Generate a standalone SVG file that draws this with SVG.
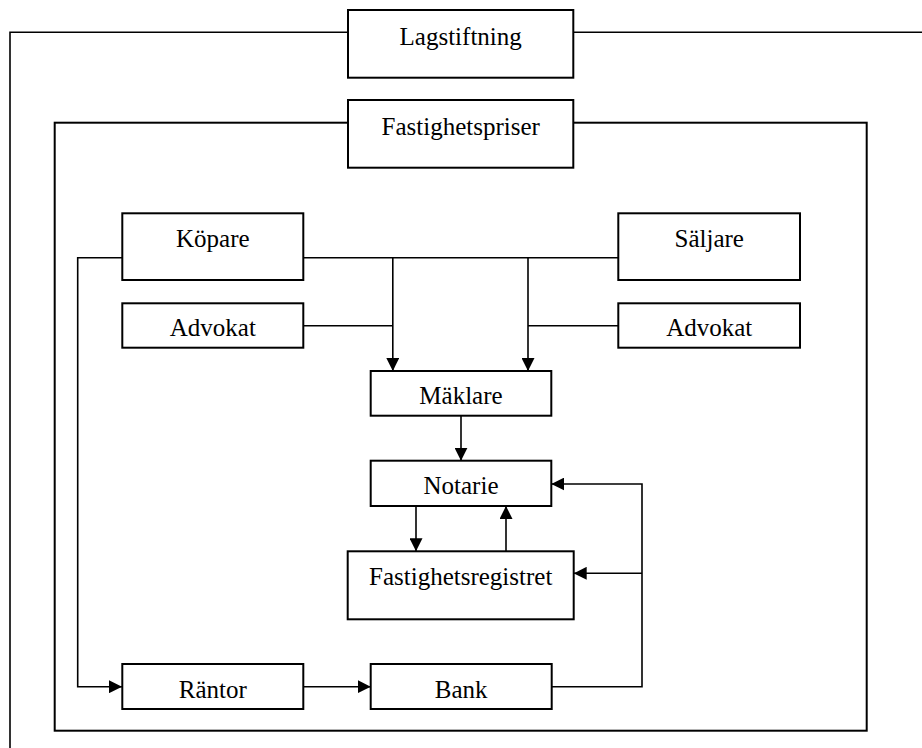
<svg xmlns="http://www.w3.org/2000/svg" width="922" height="748" viewBox="0 0 922 748">
<style>
.box{fill:#fff;stroke:#000;stroke-width:2}
.ln{fill:none;stroke:#000;stroke-width:1.6}
.arr{marker-end:url(#ah)}
text{font-family:"Liberation Serif","Times New Roman",serif;font-size:25px;fill:#000;text-anchor:middle}
</style>
<defs>
<marker id="ah" markerUnits="userSpaceOnUse" markerWidth="13" markerHeight="13" refX="13" refY="6.5" orient="auto">
<path d="M0,0 L13,6.5 L0,13 z" fill="#000"/>
</marker>
</defs>
<rect width="922" height="748" fill="#fff"/>
<g id="connectors">
<path class="ln" d="M922,32.3 H10 V748"/>
<rect class="ln" x="54.7" y="122.7" width="812" height="608" style="stroke-width:2"/>
<path class="ln" d="M303,257.7 H618"/>
<path class="ln arr" d="M122,257.7 H77.7 V686.7 H122"/>
<path class="ln" d="M303,325.7 H392.8"/>
<path class="ln" d="M618,325.7 H528"/>
<path class="ln arr" d="M392.8,257.7 V371"/>
<path class="ln arr" d="M528,257.7 V371"/>
<path class="ln arr" d="M461,416 V460.7"/>
<path class="ln arr" d="M416,506 V551.3"/>
<path class="ln arr" d="M506,551.3 V506"/>
<path class="ln arr" d="M551.7,686.7 H642 V484 H551.3"/>
<path class="ln arr" d="M642,573.3 H573.7"/>
<path class="ln arr" d="M303,686.7 H370.7"/>
</g>
<g id="lagstiftning"><rect class="box" x="348" y="10" width="225.3" height="67.7"/><text x="460.7" y="44.5">Lagstiftning</text></g>
<g id="fastighetspriser"><rect class="box" x="348" y="100" width="225.3" height="67.7"/><text x="460.7" y="134.5">Fastighetspriser</text></g>
<g id="kopare"><rect class="box" x="122.3" y="213.3" width="181" height="66.7"/><text x="212.8" y="247">Köpare</text></g>
<g id="saljare"><rect class="box" x="618.3" y="213.3" width="181.7" height="66.7"/><text x="709.2" y="247">Säljare</text></g>
<g id="advokat-kopare"><rect class="box" x="122.3" y="303.3" width="181" height="44.4"/><text x="212.8" y="336">Advokat</text></g>
<g id="advokat-saljare"><rect class="box" x="618.3" y="303.3" width="181.7" height="44.4"/><text x="709.2" y="336">Advokat</text></g>
<g id="maklare"><rect class="box" x="370.7" y="371" width="180.6" height="44.7"/><text x="461" y="403.5">Mäklare</text></g>
<g id="notarie"><rect class="box" x="370.7" y="460.7" width="180.6" height="45.3"/><text x="461" y="493.5">Notarie</text></g>
<g id="fastighetsregistret"><rect class="box" x="347.7" y="551.3" width="226" height="68"/><text x="460.7" y="585">Fastighetsregistret</text></g>
<g id="rantor"><rect class="box" x="122.3" y="664" width="181" height="45"/><text x="212.8" y="697.5">Räntor</text></g>
<g id="bank"><rect class="box" x="370.7" y="664" width="181" height="45"/><text x="461.2" y="697.5">Bank</text></g>
</svg>
